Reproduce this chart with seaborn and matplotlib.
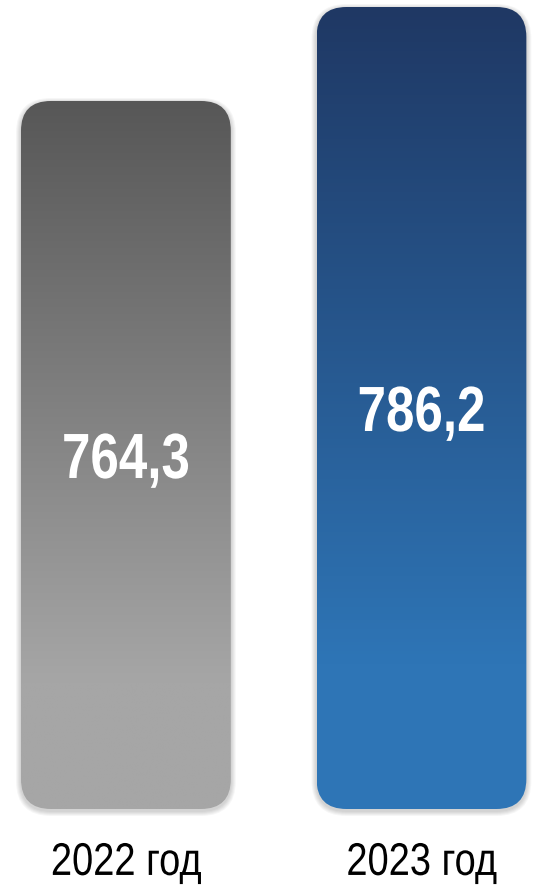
import numpy as np
import matplotlib
matplotlib.use("Agg")
import matplotlib.pyplot as plt
import seaborn as sns
from matplotlib.patches import FancyBboxPatch
from matplotlib.colors import LinearSegmentedColormap
from matplotlib.patheffects import AbstractPathEffect
from matplotlib.transforms import Affine2D

# data
years = ["2022 год", "2023 год"]
values = [764.3, 786.2]
value_labels = ["764,3", "786,2"]
top_colors = ["#575757", "#1f3864"]
bottom_colors = ["#a6a6a6", "#2e75b6"]


class Narrow(AbstractPathEffect):
    """squeeze text horizontally, the reference uses a narrow font"""
    def __init__(self, factor=0.8):
        super().__init__()
        self.factor = factor

    def draw_path(self, renderer, gc, tpath, affine, rgbFace=None):
        ext = tpath.get_extents(affine)
        cx = (ext.x0 + ext.x1) / 2
        squeeze = Affine2D().translate(-cx, 0).scale(self.factor, 1).translate(cx, 0)
        renderer.draw_path(gc, tpath, affine + squeeze, rgbFace)


sns.set_style("white")
plt.rcParams["font.family"] = ["Liberation Sans", "DejaVu Sans"]

fig = plt.figure(figsize=(5.37, 8.86), dpi=100)
ax = fig.add_axes([0, 77 / 886, 1, 809 / 886])
sns.barplot(x=years, y=values, ax=ax, width=0.71)
xlim = (-0.426, 1.391)
ylim = (599.3, 787.83)
ax.set_xlim(*xlim)
ax.set_ylim(*ylim)

# pixels per data unit, used for round corners and text offsets
px_x = ax.bbox.width / (xlim[1] - xlim[0])
px_y = ax.bbox.height / (ylim[1] - ylim[0])
aspect = px_x / px_y
r = 30 / px_x
base = ylim[0]

bars = list(ax.patches)
for i, p in enumerate(bars):
    x0, w, h = p.get_x(), p.get_width(), p.get_height()
    p.set_visible(False)

    # soft shadow
    for k in range(1, 6):
        e = k / px_x
        ey = k / px_y
        sh = FancyBboxPatch((x0 - e, base - ey - 2 / px_y), w + 2 * e, h - base + 2 * ey,
                            boxstyle=f"round,pad=0,rounding_size={r + e}",
                            mutation_aspect=aspect, facecolor="black",
                            edgecolor="none", alpha=0.035, zorder=1, clip_on=False)
        ax.add_patch(sh)

    box = FancyBboxPatch((x0, base), w, h - base,
                         boxstyle=f"round,pad=0,rounding_size={r}",
                         mutation_aspect=aspect, facecolor="none", edgecolor="none",
                         zorder=2, clip_on=False)
    ax.add_patch(box)
    cmap = LinearSegmentedColormap.from_list(
        f"g{i}", [(0, bottom_colors[i]), (0.18, bottom_colors[i]), (1, top_colors[i])])
    grad = np.linspace(0, 1, 256).reshape(-1, 1)
    im = ax.imshow(grad, extent=[x0, x0 + w, base, h], origin="lower", cmap=cmap,
                   aspect="auto", zorder=2, interpolation="bilinear")
    im.set_clip_path(box)

    mid = (base + h) / 2
    ax.text(x0 + w / 2, mid - 23 / px_y, value_labels[i], ha="center", va="baseline",
            color="white", fontsize=46, fontweight="bold", zorder=3,
            path_effects=[Narrow(0.8)])

ax.set_xlim(*xlim)
ax.set_ylim(*ylim)
ax.set_yticks([])
ax.set_xlabel("")
ax.set_ylabel("")
ax.tick_params(axis="x", length=0, pad=23, labelsize=33, labelcolor="black")
for t in ax.get_xticklabels():
    t.set_path_effects([Narrow(0.83)])
sns.despine(ax=ax, left=True, bottom=True)

fig.savefig("out.png", dpi=100)
